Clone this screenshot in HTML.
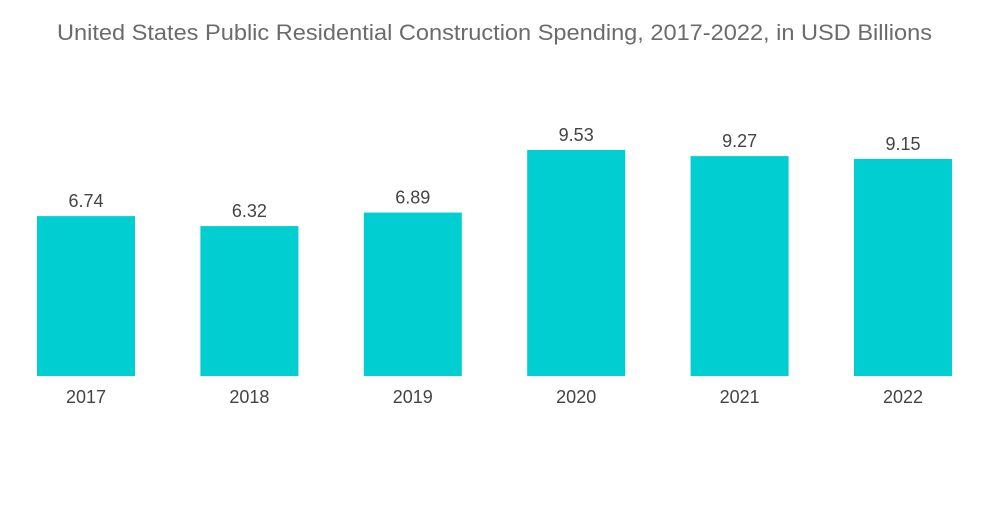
<!DOCTYPE html>
<html><head><meta charset="utf-8"><style>
body{margin:0;background:#fff;width:1000px;height:504px;overflow:hidden;font-family:"Liberation Sans",sans-serif}
</style></head><body>
<svg id="chart" width="1000" height="504">
<text x="494.5" y="40" text-anchor="middle" font-size="22" textLength="875" lengthAdjust="spacingAndGlyphs" fill="#6b6b6b">United States Public Residential Construction Spending, 2017-2022, in USD Billions</text>
</svg>
<script>
const categories=["2017","2018","2019","2020","2021","2022"];
const values=[6.74,6.32,6.89,9.53,9.27,9.15];
const valueLabels=["6.74","6.32","6.89","9.53","9.27","9.15"];
const svg=document.getElementById('chart');
const NS='http://www.w3.org/2000/svg';
const base=376, scale=23.72, x0=37, step=163.4, bw=98;
const y=v=>base-v*scale;
const x=i=>x0+i*step;
categories.forEach((c,i)=>{
  const r=document.createElementNS(NS,'rect');
  r.setAttribute('x',x(i));r.setAttribute('y',y(values[i]));
  r.setAttribute('width',bw);r.setAttribute('height',base-y(values[i]));
  r.setAttribute('fill','#00ced1');
  
  
  svg.appendChild(r);
  const t=document.createElementNS(NS,'text');
  t.setAttribute('x',x(i)+bw/2);t.setAttribute('y',y(values[i])-9);
  t.setAttribute('text-anchor','middle');t.setAttribute('font-size','18');t.setAttribute('fill','#444');
  t.textContent=valueLabels[i];
  
  
  svg.appendChild(t);
  const l=document.createElementNS(NS,'text');
  l.setAttribute('x',x(i)+bw/2);l.setAttribute('y',403);
  l.setAttribute('text-anchor','middle');l.setAttribute('font-size','18');l.setAttribute('fill','#444');
  l.textContent=c;
  
  
  svg.appendChild(l);
});
</script>
</body></html>
